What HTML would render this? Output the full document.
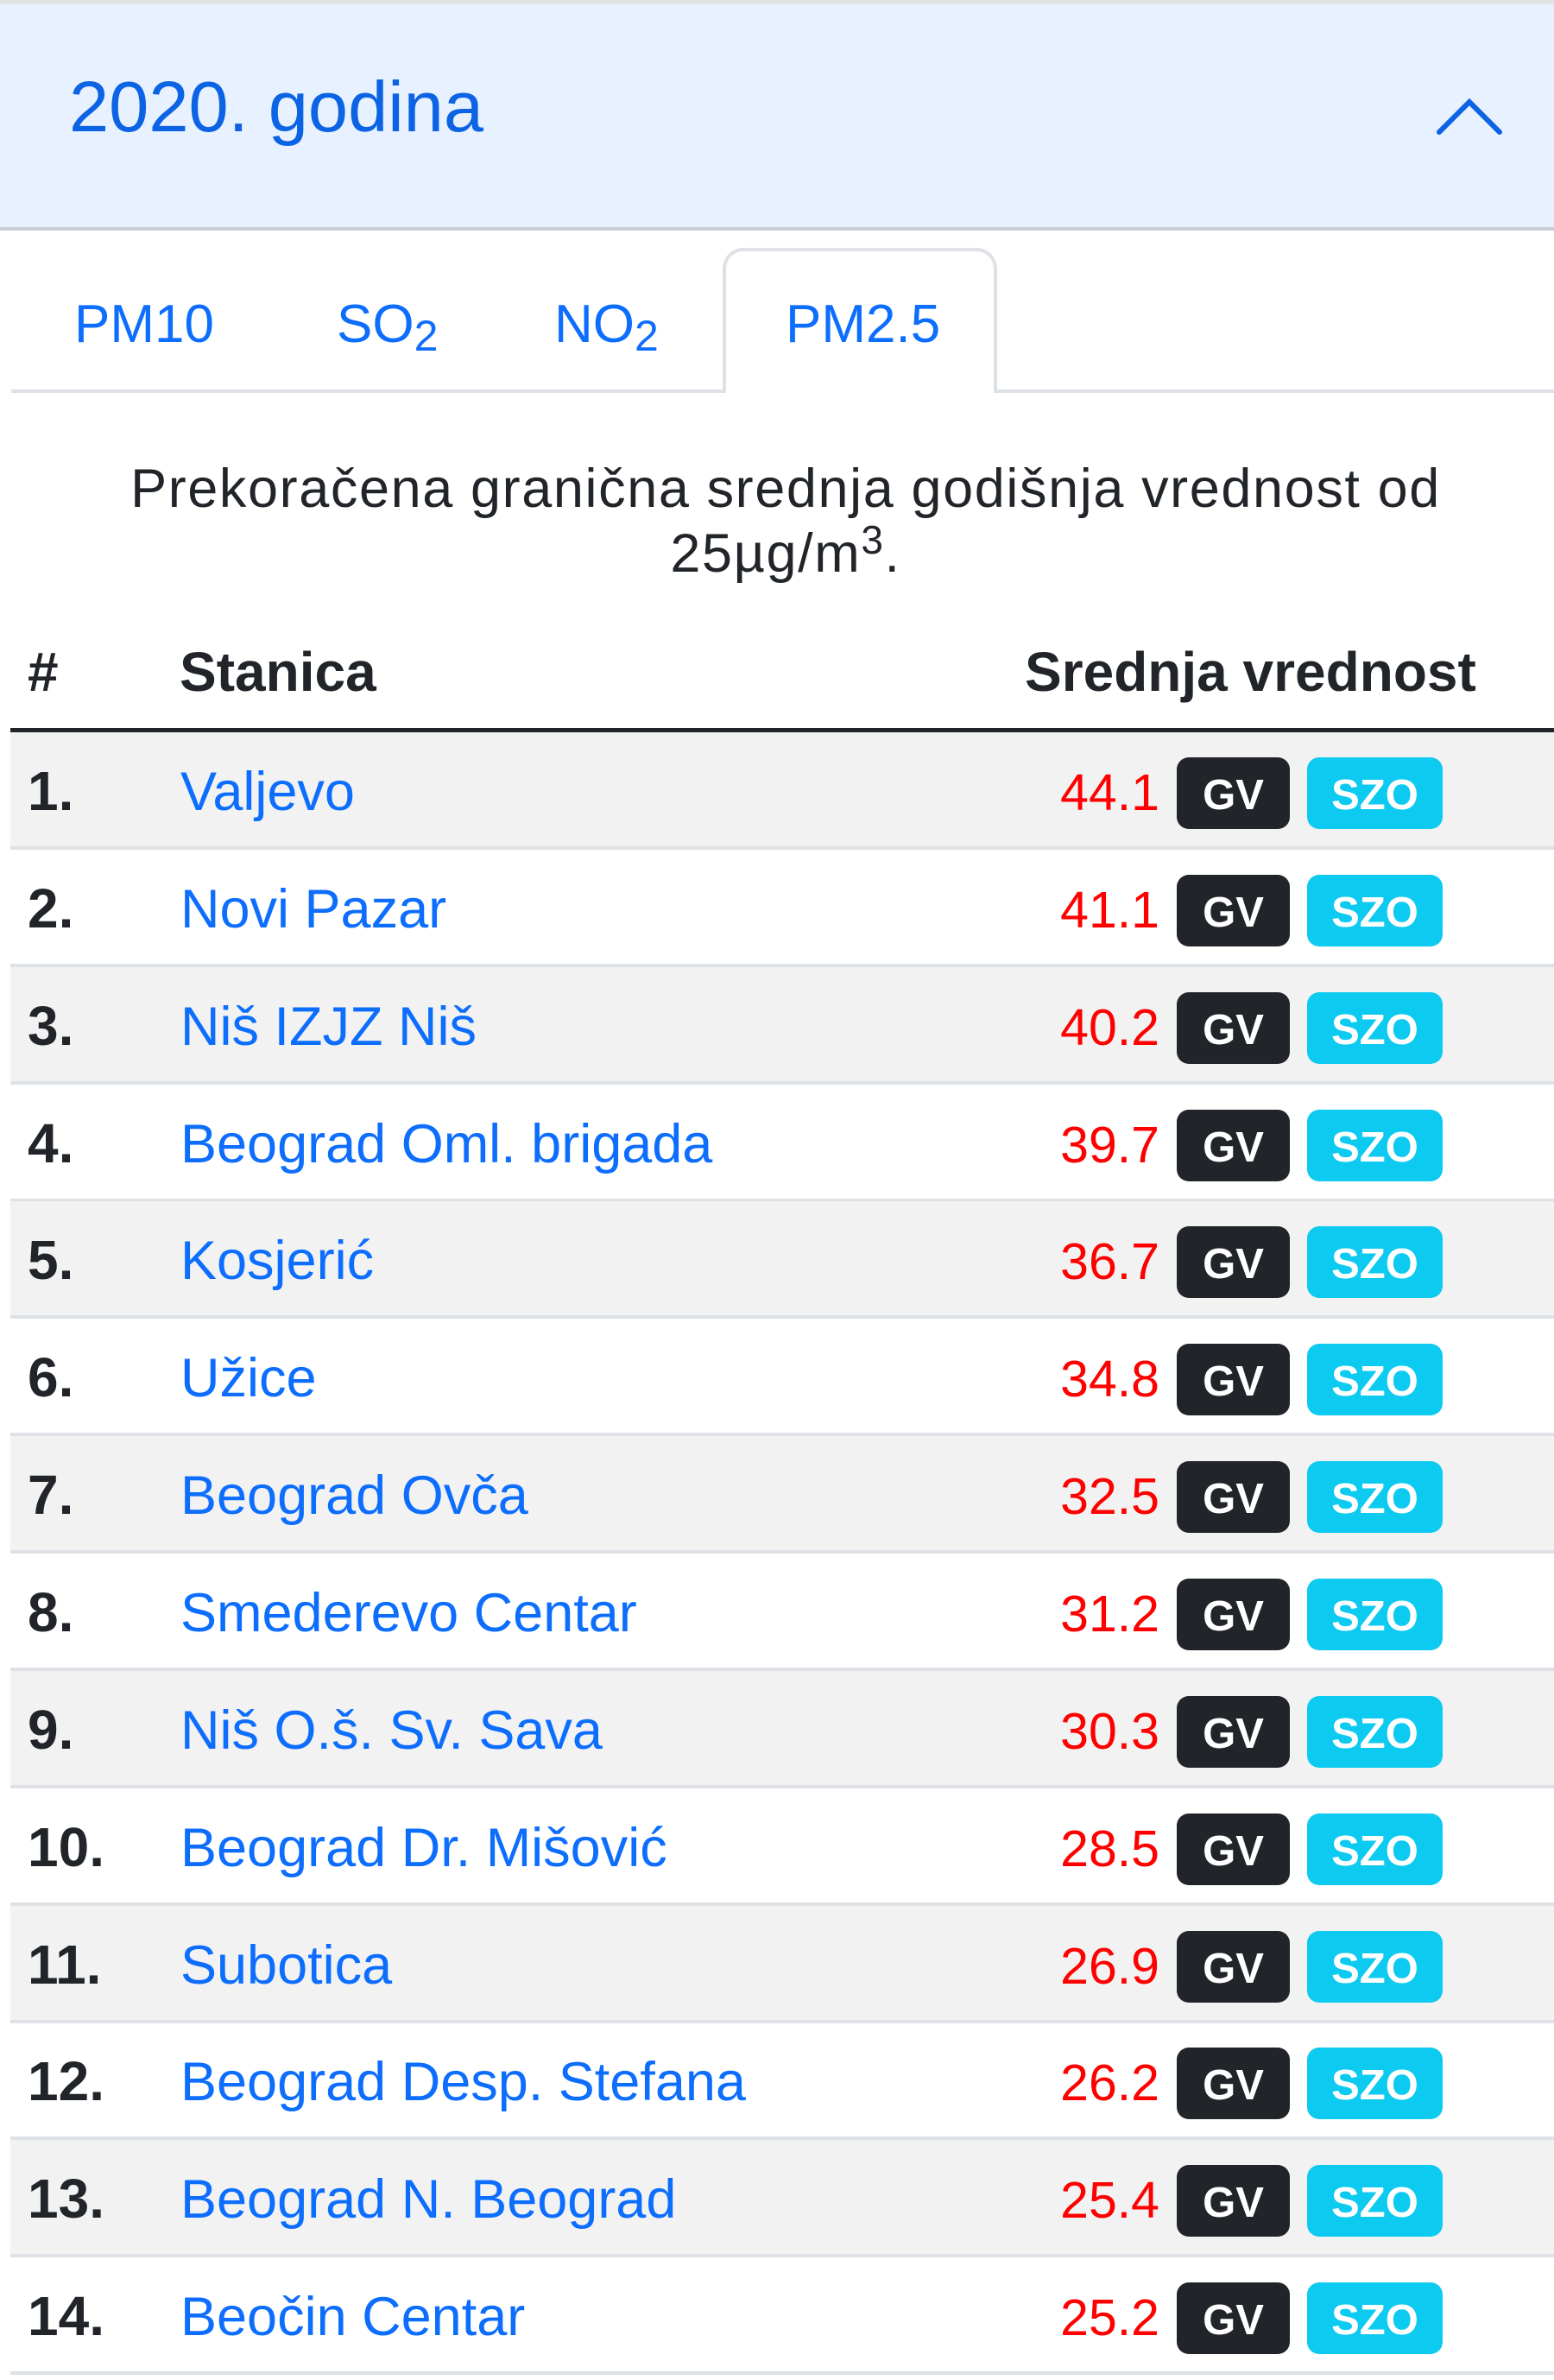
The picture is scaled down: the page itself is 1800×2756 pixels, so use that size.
<!DOCTYPE html>
<html>
<head>
<meta charset="utf-8">
<style>
  html,body{margin:0;padding:0;}
  body{width:1800px;height:2756px;overflow:hidden;position:relative;background:#fff;
       font-family:"Liberation Sans","DejaVu Sans",sans-serif;color:#212529;}
  .abs{position:absolute;white-space:nowrap;}
  .tab{position:absolute;top:336px;font-size:62px;line-height:80px;color:#0d6efd;white-space:nowrap;}
  .tab sub{font-size:50px;vertical-align:baseline;position:relative;top:10px;}
  .th{position:absolute;top:738px;font-size:64px;line-height:80px;font-weight:bold;white-space:nowrap;color:#212529;}
  .row{position:absolute;left:12px;width:1788px;height:132px;border-bottom:4px solid #dee2e6;}
  .row.s{background:#f2f2f2;}
  .num{position:absolute;left:20px;top:28px;font-size:64px;line-height:80px;font-weight:bold;color:#212529;white-space:nowrap;}
  .name{position:absolute;left:197px;top:29px;font-size:63px;line-height:80px;color:#0d6efd;white-space:nowrap;}
  .val{position:absolute;right:457px;top:30px;font-size:59px;line-height:80px;color:#ff0000;white-space:nowrap;text-align:right;}
  .badge{position:absolute;top:29px;height:83px;box-sizing:border-box;padding-top:5px;line-height:78px;
         border-radius:14px;color:#fff;font-weight:bold;font-size:49px;text-align:center;white-space:nowrap;}
  .gv{left:1351px;width:131px;background:#212529;}
  .szo{left:1502px;width:157px;background:#0dcaf0;}
</style>
</head>
<body>
  <!-- accordion header -->
  <div class="abs" style="left:0;top:0;width:1800px;height:5px;background:#e2e3e5;"></div>
  <div class="abs" style="left:0;top:5px;width:1800px;height:258px;background:#e7f1ff;"></div>
  <div class="abs" style="left:0;top:263px;width:1800px;height:4px;background:#c8cfd9;"></div>
  <div class="abs" style="left:80px;top:74px;font-size:83px;line-height:100px;color:#0c63e4;">2020. godina</div>
  <svg class="abs" style="left:1655px;top:105px;" width="95" height="60" viewBox="0 0 95 60">
    <polyline points="12,48 47,13 82,48" fill="none" stroke="#0c63e4" stroke-width="6" stroke-linecap="round" stroke-linejoin="miter"/>
  </svg>

  <!-- tabs -->
  <div class="abs" style="left:13px;top:451px;width:1787px;height:4px;background:#dee2e6;"></div>
  <div class="abs" style="left:837px;top:287px;width:318px;height:168px;box-sizing:border-box;border:4px solid #dee2e6;border-bottom:none;border-radius:24px 24px 0 0;background:#fff;"></div>
  <div class="tab" style="left:86px;">PM10</div>
  <div class="tab" style="left:390px;">SO<sub>2</sub></div>
  <div class="tab" style="left:642px;">NO<sub>2</sub></div>
  <div class="tab" style="left:910px;">PM2.5</div>

  <!-- description -->
  <div class="abs" style="left:0;top:529px;width:1820px;text-align:center;font-size:63px;line-height:75px;letter-spacing:1.6px;color:#212529;white-space:normal;">
    Prekoračena granična srednja godišnja vrednost od<br>25µg/m<span style="font-size:46px;position:relative;top:-21px;">3</span>.
  </div>

  <!-- table header -->
  <div class="th" style="left:32px;">#</div>
  <div class="th" style="left:208px;">Stanica</div>
  <div class="th" style="left:1187px;">Srednja vrednost</div>
  <div class="abs" style="left:12px;top:843px;width:1788px;height:6px;background:#212529;"></div>

  <!-- rows -->
  <div class="row s" style="top:848px;"><div class="num">1.</div><div class="name">Valjevo</div><div class="val">44.1</div><div class="badge gv">GV</div><div class="badge szo">SZO</div></div>
  <div class="row" style="top:984px;"><div class="num">2.</div><div class="name">Novi Pazar</div><div class="val">41.1</div><div class="badge gv">GV</div><div class="badge szo">SZO</div></div>
  <div class="row s" style="top:1120px;"><div class="num">3.</div><div class="name">Niš IZJZ Niš</div><div class="val">40.2</div><div class="badge gv">GV</div><div class="badge szo">SZO</div></div>
  <div class="row" style="top:1256px;"><div class="num">4.</div><div class="name">Beograd Oml. brigada</div><div class="val">39.7</div><div class="badge gv">GV</div><div class="badge szo">SZO</div></div>
  <div class="row s" style="top:1391px;"><div class="num">5.</div><div class="name">Kosjerić</div><div class="val">36.7</div><div class="badge gv">GV</div><div class="badge szo">SZO</div></div>
  <div class="row" style="top:1527px;"><div class="num">6.</div><div class="name">Užice</div><div class="val">34.8</div><div class="badge gv">GV</div><div class="badge szo">SZO</div></div>
  <div class="row s" style="top:1663px;"><div class="num">7.</div><div class="name">Beograd Ovča</div><div class="val">32.5</div><div class="badge gv">GV</div><div class="badge szo">SZO</div></div>
  <div class="row" style="top:1799px;"><div class="num">8.</div><div class="name">Smederevo Centar</div><div class="val">31.2</div><div class="badge gv">GV</div><div class="badge szo">SZO</div></div>
  <div class="row s" style="top:1935px;"><div class="num">9.</div><div class="name">Niš O.š. Sv. Sava</div><div class="val">30.3</div><div class="badge gv">GV</div><div class="badge szo">SZO</div></div>
  <div class="row" style="top:2071px;"><div class="num">10.</div><div class="name">Beograd Dr. Mišović</div><div class="val">28.5</div><div class="badge gv">GV</div><div class="badge szo">SZO</div></div>
  <div class="row s" style="top:2207px;"><div class="num">11.</div><div class="name">Subotica</div><div class="val">26.9</div><div class="badge gv">GV</div><div class="badge szo">SZO</div></div>
  <div class="row" style="top:2342px;"><div class="num">12.</div><div class="name">Beograd Desp. Stefana</div><div class="val">26.2</div><div class="badge gv">GV</div><div class="badge szo">SZO</div></div>
  <div class="row s" style="top:2478px;"><div class="num">13.</div><div class="name">Beograd N. Beograd</div><div class="val">25.4</div><div class="badge gv">GV</div><div class="badge szo">SZO</div></div>
  <div class="row" style="top:2614px;"><div class="num">14.</div><div class="name">Beočin Centar</div><div class="val">25.2</div><div class="badge gv">GV</div><div class="badge szo">SZO</div></div>
</body>
</html>
